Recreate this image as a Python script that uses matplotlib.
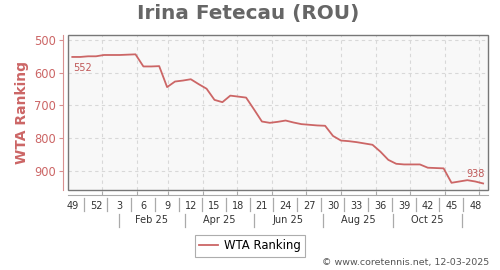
import datetime as dt
import matplotlib
matplotlib.use("Agg")
import matplotlib.pyplot as plt
from matplotlib.patches import Rectangle
from matplotlib.lines import Line2D
from matplotlib import transforms

# ---- data ----
rankings = [552, 552, 550, 550, 546, 546, 546, 545, 544, 581, 581, 580, 644,
            627, 624, 620, 635, 649, 683, 690, 670, 673, 676, 712, 749, 753,
            750, 746, 752, 757, 759, 761, 762, 793, 807, 809, 812, 816, 820,
            841, 866, 878, 880, 880, 880, 890, 891, 892, 936, 932, 928, 932, 938]
week_labels = ["49", "52", "3", "6", "9", "12", "15", "18", "21", "24", "27",
               "30", "33", "36", "39", "42", "45", "48"]
month_labels = ["Feb 25", "Apr 25", "Jun 25", "Aug 25", "Oct 25"]
y_ticks = [500, 600, 700, 800, 900]
first_label = "552"
last_label = "938"

start = dt.date(2024, 12, 6)


def wk(d):
    return (d - start).days / 7.0


weeks = list(range(len(rankings)))
month_starts = [wk(dt.date(2025, m, 1)) for m in range(1, 13)]
seps_month = [wk(dt.date(2025, m, 16)) for m in (1, 3, 5, 7, 9, 11)]
month_pos = [(a + b) / 2 for a, b in zip(seps_month[:-1], seps_month[1:])]
week_pos = [3 * i for i in range(len(week_labels))]

RED = "#cc6666"

fig = plt.figure(figsize=(5.0, 2.7), dpi=100)
ax = fig.add_axes([68 / 500, 1 - 190 / 270, 420 / 500, 155 / 270])
ax.set_facecolor("#f8f8f8")

ax.plot(weeks, rankings, color=RED, lw=1.3, solid_joinstyle="round", zorder=3,
        label="WTA Ranking")

ax.set_xlim(-0.544, 52.62)
ax.set_ylim(958, 485)

# grid
for m in month_starts:
    ax.axvline(m, color="#d8d8d8", lw=0.8, ls=(0, (3, 3)), zorder=1)
for y in y_ticks:
    ax.axhline(y, color="#d8d8d8", lw=0.8, ls=(0, (3, 3)), zorder=1)

# frame
for s in ("top", "right"):
    ax.spines[s].set_visible(False)
ax.add_patch(Rectangle((0, 0), 1, 1, transform=ax.transAxes, fill=False,
                       edgecolor="#777777", lw=1.0, clip_on=False, zorder=4))

ax.spines["left"].set_position(("outward", 3.6))
ax.spines["left"].set_color("#d89090")
ax.spines["bottom"].set_position(("outward", 3.6))
ax.spines["bottom"].set_color("#aaaaaa")

ax.set_yticks(y_ticks)
ax.set_yticklabels([str(v) for v in y_ticks], fontsize=8.3, color=RED)
ax.tick_params(axis="y", colors="#d89090", labelcolor=RED, length=3, width=0.8,
               pad=2)

ax.set_xticks(month_starts)
ax.set_xticklabels([])
ax.tick_params(axis="x", which="major", direction="in", length=3,
               color="#aaaaaa", width=0.8)
ax.set_xticks(week_pos, minor=True)
ax.set_xticklabels(week_labels, minor=True, fontsize=7, color="#333333")
ax.tick_params(axis="x", which="minor", length=0, pad=4)

ax.set_ylabel("WTA Ranking", fontsize=10, fontweight="bold", color=RED,
              labelpad=4)

# separators
bt = transforms.blended_transform_factory(ax.transData, fig.transFigure)
for i in range(len(week_pos) - 1):
    x = week_pos[i] + 1.45
    fig.add_artist(Line2D([x, x], [1 - 198 / 270, 1 - 211 / 270],
                          transform=bt, color="#aaaaaa", lw=0.9))
for x in seps_month:
    fig.add_artist(Line2D([x, x], [1 - 214 / 270, 1 - 227 / 270],
                          transform=bt, color="#aaaaaa", lw=0.9))
for x, lab in zip(month_pos, month_labels):
    fig.text(x, 1 - 220 / 270, lab, transform=bt, ha="center", va="center",
             fontsize=7, color="#333333")

# annotations
ax.annotate(first_label, (weeks[0], rankings[0]), xytext=(1, -4),
            textcoords="offset points", ha="left", va="top", fontsize=7,
            color="#c05858")
ax.annotate(last_label, (weeks[-1], rankings[-1]), xytext=(1, 3),
            textcoords="offset points", ha="right", va="bottom", fontsize=7,
            color="#c05858")

# title
fig.text(0.496, 1 - 13 / 270, "Irina Fetecau (ROU)", ha="center", va="center",
         fontsize=14.4, fontweight="bold", color="#666666")

# legend
leg = fig.legend(loc="center", bbox_to_anchor=(250 / 500, 1 - 246 / 270),
                 fontsize=8.4, frameon=True, fancybox=False, handlelength=1.6,
                 handletextpad=0.5, borderpad=0.35)
leg.get_frame().set_edgecolor("#999999")
leg.get_frame().set_linewidth(0.8)

fig.text(489 / 500, 1 - 263 / 270, "\u00a9 www.coretennis.net, 12-03-2025",
         ha="right", va="center", fontsize=6.8, color="#555555")

fig.savefig("out.png", dpi=100)
